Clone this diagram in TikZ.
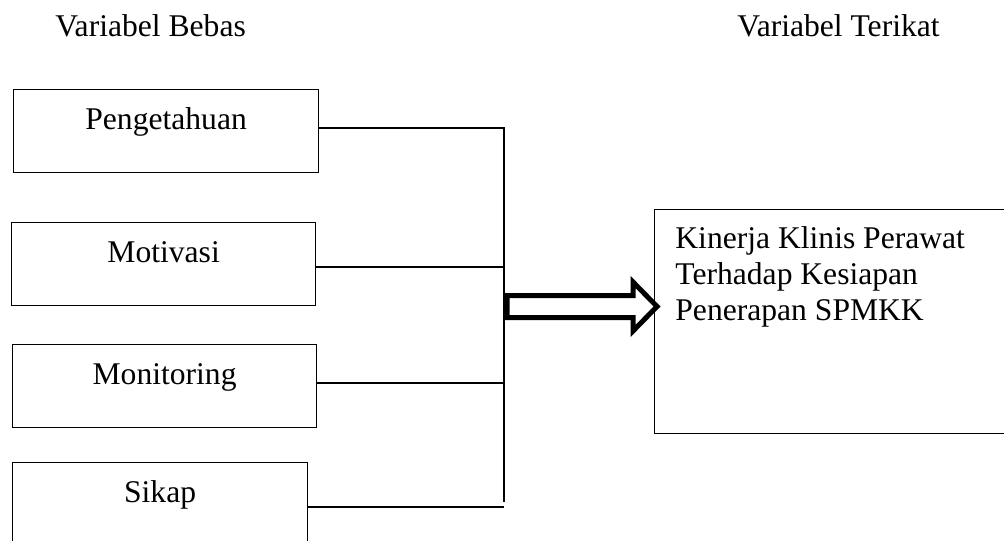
\documentclass[tikz,border=0pt]{standalone}
\usepackage{fontspec}
\setmainfont{Liberation Serif}
\usetikzlibrary{arrows,shapes,positioning}

\begin{document}
\begin{tikzpicture}[x=0.5pt,y=-0.5pt]
    \fontsize{15.8pt}{18pt}\selectfont  % ukuran huruf
    \tikzstyle{varbox}=[rectangle,draw,line width=0.6pt,inner sep=0pt,minimum height=41.5pt,text height=20pt,text depth=21.5pt,anchor=north west]  % kotak variabel
    \tikzstyle{judul}=[anchor=base west,inner sep=0pt]  % judul kolom
    \tikzstyle{garis}=[line width=1pt]  % garis penghubung
    \tikzstyle{panah}=[line width=2.5pt,fill=white]  % panah blok

    \useasboundingbox (0,0) rectangle (1004,540);

    % judul
    \node[judul](bebas) at (55,37){Variabel Bebas};
    \node[judul](terikat) at (737,37){Variabel Terikat};
    % variabel bebas
    \node[varbox,minimum width=152.5pt](peng) at (13,89){Pengetahuan};
    \node[varbox,minimum width=152pt](moti) at (11,222){Motivasi};
    \node[varbox,minimum width=152pt](moni) at (12,344){Monitoring};
    \node[varbox,minimum width=147.5pt](sikap) at (12,462){Sikap};
    % variabel terikat
    \node[rectangle,draw,line width=0.6pt,minimum width=180pt,minimum height=112pt,anchor=north west,
          label={[anchor=north west,align=left,inner sep=0pt,xshift=10.5pt,yshift=-8.5pt]north west:Kinerja Klinis Perawat\\Terhadap Kesiapan\\Penerapan SPMKK}](kin) at (654,209){};
    % titik sambung
    \coordinate (atas) at (504,128);
    \coordinate (j2) at (504,267);
    \coordinate (j3) at (504,383);
    \coordinate (bawah) at (504,502);
    \coordinate (j4) at (504,507);
    \coordinate (ekor) at (507,306.5);
    % garis
    \draw[garis](peng.east |- atas)--(atas)--(bawah);
    \draw[garis](moti.east |- j2)--(j2);
    \draw[garis](moni.east |- j3)--(j3);
    \draw[garis](sikap.east |- j4)--(j4);
    \draw[panah](ekor) +(0,-11) -- +(126,-11) -- +(126,-24.5) -- +(150,0) -- +(126,24.5) -- +(126,11) -- +(0,11) -- cycle;
\end{tikzpicture}
\end{document}
